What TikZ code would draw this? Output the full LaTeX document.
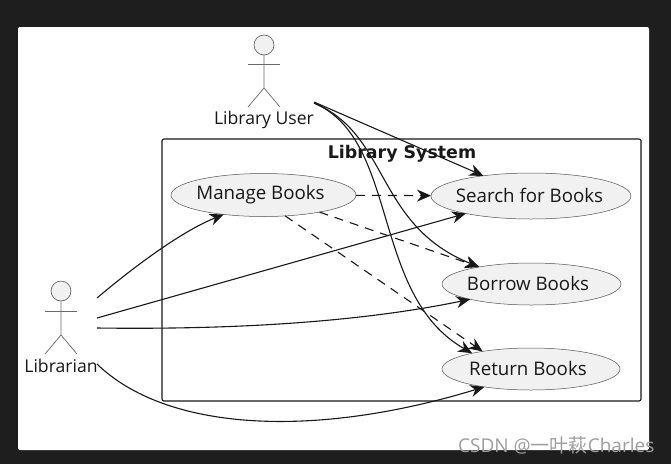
\documentclass[tikz,border=0pt]{standalone}
\usepackage{fontspec}
\setmainfont{Open Sans}
\newfontfamily\cjkfont{Noto Sans CJK SC}
\newfontfamily\titlefont{DejaVu Sans}
\usetikzlibrary{arrows.meta,shapes.geometric}
\definecolor{pagebg}{HTML}{1E1E1E}
\definecolor{ink}{HTML}{181818}
\definecolor{usefill}{HTML}{F1F1F1}
\newcommand{\uselabel}[3]{\raisebox{#2}{\makebox[0pt]{\hspace*{#1}#3}}}
\tikzset{
  usecase/.style={ellipse,draw=ink!75,line width=.5pt,fill=usefill,inner sep=0pt,outer sep=0pt,minimum width=#1,text=ink,font=\fontsize{18.7}{20}\selectfont},
  actorline/.style={draw=ink!65,line width=.7pt},
  actorlabel/.style={inner sep=0pt,text=ink,font=\fontsize{17.6}{20}\selectfont},
  conn/.style={draw=ink,line width=1.1pt,-{Stealth[length=14pt,width=12pt,inset=4.5pt]}},
  dashconn/.style={conn,dash pattern=on 9pt off 7pt}
}
\begin{document}
\begin{tikzpicture}[x=1pt,y=-1pt]
\useasboundingbox (0,0) rectangle (671,464);
\fill[pagebg] (0,0) rectangle (671,464);
\fill[white,rounded corners=2pt] (18,27) rectangle (649,450);
% system frame
\node[draw=ink,line width=1.1pt,rounded corners=2pt,minimum width=479pt,minimum height=262pt,inner sep=0pt,outer sep=0pt] (frame) at (401.5,270) {};
\node[inner sep=0pt,text=ink,font=\fontsize{17.4}{20}\titlefont\bfseries] (title) at (402,153.5) {Library System};
% use cases
\node[usecase=185pt,minimum height=43pt] (manage) at (263.5,195) {\uselabel{-6pt}{0pt}{Manage Books}};
\node[usecase=200pt,minimum height=46pt] (search) at (531,196) {\uselabel{-3pt}{1pt}{Search for Books}};
\node[usecase=179pt,minimum height=42pt] (borrow) at (531.5,284) {\uselabel{-7pt}{1pt}{Borrow Books}};
\node[usecase=178pt,minimum height=42pt] (return) at (531,369) {\uselabel{-6pt}{2pt}{Return Books}};
% actor: library user
\node[circle,draw=ink!75,fill=usefill,line width=.6pt,minimum size=20pt,inner sep=0pt,outer sep=0pt] (uhead) at (264,45) {};
\coordinate (uhip) at (264,88);
\draw[actorline] (uhead.south) -- (uhip) -- (248,107);
\draw[actorline] (uhip) -- (280,107);
\draw[actorline] (248,64) -- (280,64);
\node[actorlabel] (ulabel) at (264,119.5) {Library User};
% actor: librarian
\node[circle,draw=ink!75,fill=usefill,line width=.6pt,minimum size=20pt,inner sep=0pt,outer sep=0pt] (lhead) at (61,291) {};
\coordinate (lhip) at (61,335);
\draw[actorline] (lhead.south) -- (lhip) -- (45,354);
\draw[actorline] (lhip) -- (77,354);
\draw[actorline] (45,311) -- (77,311);
\node[actorlabel] (llabel) at (61,365.5) {Librarian};
% free ends
\coordinate (ua) at (314,102);
\coordinate (ub) at (314,103);
\coordinate (la) at (97,298);
\coordinate (lb) at (97,318);
\coordinate (lc) at (97,328);
\coordinate (ld) at (97,364);
% user connectors
\draw[conn] (ua) -- (search.157.6);
\draw[conn] (ub) .. controls (390,135) and (375,225) .. (borrow.162);
\draw[conn] (ub) .. controls (400,140) and (370,295) .. (return.165);
% librarian connectors
\draw[conn] (la) .. controls (130,270) and (180,232) .. (manage.-154);
\draw[conn] (lb) -- (search.-165);
\draw[conn] (lc) .. controls (250,330) and (370,320) .. (borrow.-166);
\draw[conn] (ld) .. controls (165,430) and (310,440) .. (return.-159);
% include connectors
\draw[dashconn] (manage) -- (search);
\draw[dashconn] (manage.-17) -- (borrow.162);
\draw[dashconn] (manage.-44) -- (return.160);
% watermark
\node[inner sep=0pt,anchor=west,text=white!62!black,font=\fontsize{19}{20}\selectfont] (mark) at (458,445) {CSDN @{\cjkfont 一叶萩}Charles};
\end{tikzpicture}
\end{document}
